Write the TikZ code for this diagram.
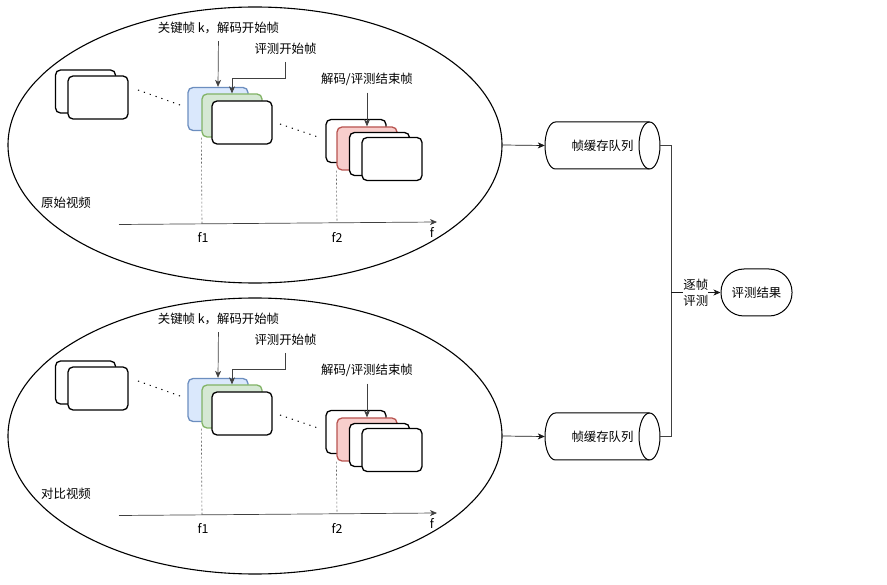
\documentclass[tikz,border=0pt]{standalone}
\usepackage{fontspec}
\setmainfont{Noto Sans CJK SC}
\usetikzlibrary{shapes.geometric,arrows.meta}
\definecolor{bfill}{HTML}{DAE8FC}\definecolor{bdraw}{HTML}{6C8EBF}
\definecolor{gfill}{HTML}{D5E8D4}\definecolor{gdraw}{HTML}{82B366}
\definecolor{rfill}{HTML}{F8CECC}\definecolor{rdraw}{HTML}{B85450}
\begin{document}
\begin{tikzpicture}[x=1pt,y=-1pt,
  frame/.style={draw, line width=1.3pt, rounded corners=5pt, minimum width=60pt, minimum height=43pt, inner sep=0pt, fill=white},
  lbl/.style={font=\fontsize{12.4}{16}\selectfont, inner sep=1pt},
  arr/.style={-{Stealth[length=7pt,width=6pt,inset=2pt]}},
  conn/.style={line width=0.7pt, draw=black!75},
  dots/.style={line width=1pt, dash pattern=on 1.2pt off 5pt},
  guide/.style={line width=0.6pt, draw=black!60, dash pattern=on 2pt off 2pt},
  vid/.style={ellipse, draw, line width=1.1pt, minimum width=494pt, minimum height=276pt, inner sep=0pt}]
\useasboundingbox (0,0) rectangle (887,585);
\foreach \dy/\nm/\lab in {0/t/原始视频, 291/b/对比视频}{
\begin{scope}[yshift=-\dy pt]
  \node[vid] (\nm ell) at (255,145) {};
  \node[lbl] at (66,203) {\lab};
  % frames
  \node[frame] (\nm f1) at (85.5,91.5) {};
  \node[frame] (\nm f2) at (98,97.5) {};
  \node[frame, fill=bfill, draw=bdraw] (\nm blue) at (218,109) {};
  \node[frame, fill=gfill, draw=gdraw] (\nm green) at (232,115.5) {};
  \node[frame] (\nm white) at (242,122.5) {};
  \node[frame] (\nm ea) at (356,141) {};
  \node[frame, fill=rfill, draw=rdraw] (\nm red) at (367,148.5) {};
  \node[frame] (\nm ec) at (379.5,154) {};
  \node[frame] (\nm ed) at (392,159) {};
  % dotted
  \coordinate (\nm d1) at (138,90); \coordinate (\nm d2) at (180,105);
  \coordinate (\nm d3) at (280,124); \coordinate (\nm d4) at (318,137);
  \draw[dots] (\nm d1) -- (\nm d2);
  \draw[dots] (\nm d3) -- (\nm d4);
  % axis
  \coordinate (\nm ax0) at (119,224.5); \coordinate (\nm ax1) at (437,222);
  \draw[conn, arr] (\nm ax0) -- (\nm ax1);
  \coordinate (\nm g1) at (202,224); \coordinate (\nm g2) at (337,222.5);
  \draw[guide] (\nm green.south west) -- (\nm g1);
  \draw[guide] (\nm red.south west) -- (\nm g2);
  \node[lbl] at (203,237) {f1};
  \node[lbl] at (337,237) {f2};
  \node[lbl] at (432,232) {f};
  % labels
  \node[lbl] (\nm klab) at (218.5,28) {关键帧 k，解码开始帧};
  \node[lbl] (\nm slab) at (285.5,49) {评测开始帧};
  \node[lbl] (\nm elab) at (367,79) {解码/评测结束帧};
  \draw[conn, arr, shorten <=6pt] (\nm klab.south) -- (\nm blue.north);
  \draw[conn, arr, shorten <=6pt] (\nm slab.south) -- (\nm slab.south |- 0,78) -| (\nm green.north);
  \draw[conn, arr, shorten <=6pt] (\nm elab.south) -- (\nm red.north);
  % cylinder
  \draw[line width=1pt, fill=white] (555.5,122) -- (649.5,122)
     arc[start angle=90,end angle=-90,x radius=10.5pt,y radius=23.5pt] -- (555.5,169)
     arc[start angle=270,end angle=90,x radius=10.5pt,y radius=23.5pt] -- cycle;
  \draw[line width=1pt] (649.5,122) arc[start angle=90,end angle=270,x radius=10.5pt,y radius=23.5pt];
  \node[lbl, minimum width=115pt, minimum height=47pt, inner sep=0pt] (\nm cyl) at (602.5,145.5) {帧缓存队列};
  \draw[conn, draw=black!90, arr] (\nm ell.east) -- (\nm cyl.west);
\end{scope}
}
\node[lbl, draw, line width=1pt, rounded corners=23pt, minimum width=71pt, minimum height=47pt] (res) at (756.5,292.5) {评测结果};
\coordinate (j) at (671,292.5);
\draw[conn] (tcyl.east) -| (j);
\draw[conn] (bcyl.east) -| (j);
\draw[conn, draw=black!90, arr] (j) -- node[lbl, fill=white, align=center, inner sep=0pt] {逐帧\\评测} (res.west);
\end{tikzpicture}
\end{document}
